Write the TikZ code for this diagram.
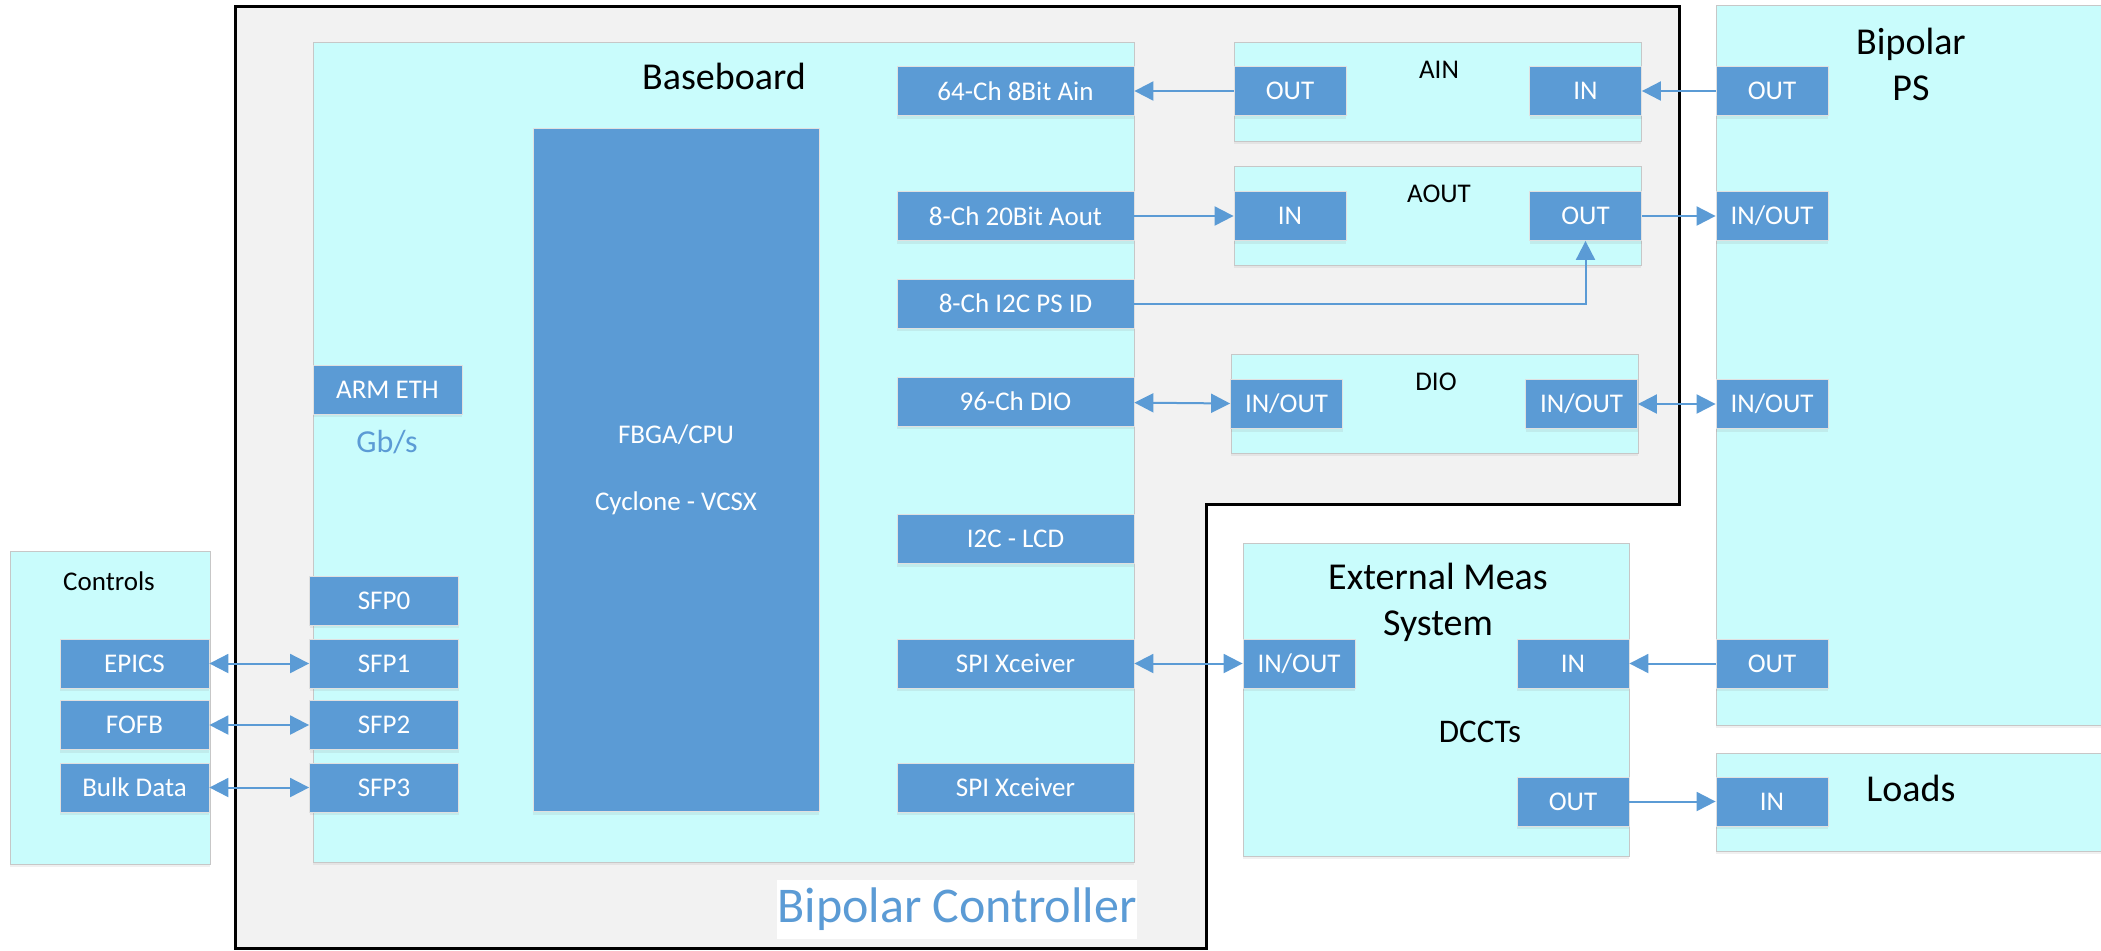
\documentclass[tikz,border=0pt]{standalone}
\usepackage{fontspec}
\setmainfont{Carlito}
\usepackage{xcolor}
\usepackage{tikz}
\usetikzlibrary{arrows.meta, shadows}

\definecolor{cyanbg}{HTML}{C9FCFC}
\definecolor{portblue}{HTML}{5B9BD5}
\definecolor{shellgray}{HTML}{F2F2F2}

\tikzset{
  panel/.style={draw=black!22, fill=cyanbg, inner sep=0pt,
    drop shadow={shadow xshift=0pt, shadow yshift=-1.5pt, opacity=0.12}},
  port/.style={draw=black!12, fill=portblue, text=white, inner sep=0pt,
    minimum height=24.5pt, font=\fontsize{13.5}{16}\selectfont,
    drop shadow={shadow xshift=0pt, shadow yshift=-1.5pt, opacity=0.12}},
  chanbox/.style={port, minimum width=118.5pt},
  sfpbox/.style={port, minimum width=74.5pt},
  iobox/.style={port, minimum width=56pt},
  captext/.style={font=\fontsize{13.5}{16}\selectfont, inner sep=0pt},
  titletext/.style={font=\fontsize{19}{23}\selectfont, align=center, inner sep=0pt},
  wire/.style={draw=portblue, line width=1pt, ->},
  biwire/.style={draw=portblue, line width=1pt, <->},
}

\begin{document}
\begin{tikzpicture}[x=0.5pt, y=-0.5pt, >={Triangle[length=9.5pt, width=9.5pt]}]
    \useasboundingbox (0,0) rectangle (2101,950);

    % Khung Bipolar Controller
    \draw[fill=shellgray, line width=1.5pt]
        (235,6) -- (1679,6) -- (1679,504) -- (1206,504) -- (1206,948) -- (235,948) -- cycle;
    \node[fill=white, minimum width=180pt, minimum height=29.5pt, inner sep=0pt,
        text=portblue, font=\fontsize{25}{30}\selectfont] (ctrl) at (957,909.5) {Bipolar Controller};

    % Cac khoi nen
    \node[panel, minimum width=410.5pt, minimum height=410pt] (base) at (723.5,452) {};
    \node[panel, minimum width=100pt, minimum height=156.25pt] (controls) at (110,707.75) {};
    \node[panel, minimum width=203.5pt, minimum height=49.5pt] (ainmod) at (1437.5,91.5) {};
    \node[panel, minimum width=203.5pt, minimum height=49.5pt] (aoutmod) at (1437.5,215.5) {};
    \node[panel, minimum width=203.5pt, minimum height=49.5pt] (diomod) at (1434.5,403.5) {};
    \node[panel, minimum width=199.5pt, minimum height=359.75pt] (psbox) at (1915.5,365.25) {};
    \node[panel, minimum width=193pt, minimum height=156.5pt] (extbox) at (1436,699.5) {};
    \node[panel, minimum width=199.5pt, minimum height=49pt] (loadsbox) at (1915.5,802) {};

    % Tieu de
    \node[titletext] (basetitle) at (724,76) {Baseboard};
    \node[captext] (ctrltitle) at (109,581) {Controls};
    \node[captext] (aintitle) at (1439,70) {AIN};
    \node[captext] (aouttitle) at (1439,194) {AOUT};
    \node[captext] (diotitle) at (1436,382) {DIO};
    \node[titletext, font=\fontsize{19}{23}\selectfont] (pstitle) at (1911,64) {Bipolar\\PS};
    \node[titletext] (exttitle) at (1438,602) {External Meas\\System};
    \node[captext, font=\fontsize{16.5}{20}\selectfont] (dccts) at (1480,732) {DCCTs};
    \node[titletext] (loadstitle) at (1911,788) {Loads};
    \node[captext, text=portblue, font=\fontsize{16}{19}\selectfont] (gbs) at (387,442) {Gb/s};

    % Baseboard
    \node[port, minimum width=143pt, minimum height=341.75pt, align=center,
        font=\fontsize{13.5}{33.5}\selectfont] (cpu) at (676,470) {FBGA/CPU\\Cyclone - VCSX};
    \node[chanbox] (ain) at (1015.5,91) {64-Ch 8Bit Ain};
    \node[chanbox] (aout) at (1015.5,216) {8-Ch 20Bit Aout};
    \node[chanbox] (psid) at (1015.5,303.5) {8-Ch I2C PS ID};
    \node[chanbox] (dio) at (1015.5,401.5) {96-Ch DIO};
    \node[chanbox] (lcd) at (1015.5,539) {I2C - LCD};
    \node[chanbox] (spia) at (1015.5,663.5) {SPI Xceiver};
    \node[chanbox] (spib) at (1015.5,787.5) {SPI Xceiver};
    \node[sfpbox] (armeth) at (387.5,389.5) {ARM ETH};
    \node[sfpbox] (sfp0) at (384,600.5) {SFP0};
    \node[sfpbox] (sfp1) at (384,663.5) {SFP1};
    \node[sfpbox] (sfp2) at (384,725) {SFP2};
    \node[sfpbox] (sfp3) at (384,787.5) {SFP3};

    % Controls
    \node[sfpbox] (epics) at (134.5,663.5) {EPICS};
    \node[sfpbox] (fofb) at (134.5,725) {FOFB};
    \node[sfpbox] (bulk) at (134.5,787.5) {Bulk Data};

    % AIN, AOUT, DIO
    \node[iobox] (ainout) at (1290,91) {OUT};
    \node[iobox] (ainin) at (1585.5,91) {IN};
    \node[iobox] (aoutin) at (1290,216) {IN};
    \node[iobox] (aoutout) at (1585.5,216) {OUT};
    \node[iobox] (dioa) at (1286.5,404) {IN/OUT};
    \node[iobox] (diob) at (1581.5,404) {IN/OUT};

    % Bipolar PS, External Meas, Loads
    \node[iobox] (psa) at (1772,91) {OUT};
    \node[iobox] (psb) at (1772,216) {IN/OUT};
    \node[iobox] (psc) at (1772,404) {IN/OUT};
    \node[iobox] (psd) at (1772,663.5) {OUT};
    \node[iobox] (extio) at (1299,663.5) {IN/OUT};
    \node[iobox] (extin) at (1573,663.5) {IN};
    \node[iobox] (extout) at (1573,801.5) {OUT};
    \node[iobox] (loadsin) at (1772,801.5) {IN};

    % Ket noi
    \draw[wire] (ainout) -- (ain);
    \draw[wire] (psa) -- (ainin);
    \draw[wire] (aout) -- (aoutin);
    \draw[wire] (aoutout) -- (psb);
    \draw[wire] (psid) -| (aoutout);
    \draw[biwire] (dio) -- (dioa);
    \draw[biwire] (diob) -- (psc);
    \draw[biwire] (spia) -- (extio);
    \draw[wire] (psd) -- (extin);
    \draw[wire] (extout) -- (loadsin);
    \foreach \a/\b in {epics/sfp1, fofb/sfp2, bulk/sfp3} {
        \draw[biwire] (\a) -- (\b);
    }
\end{tikzpicture}
\end{document}
